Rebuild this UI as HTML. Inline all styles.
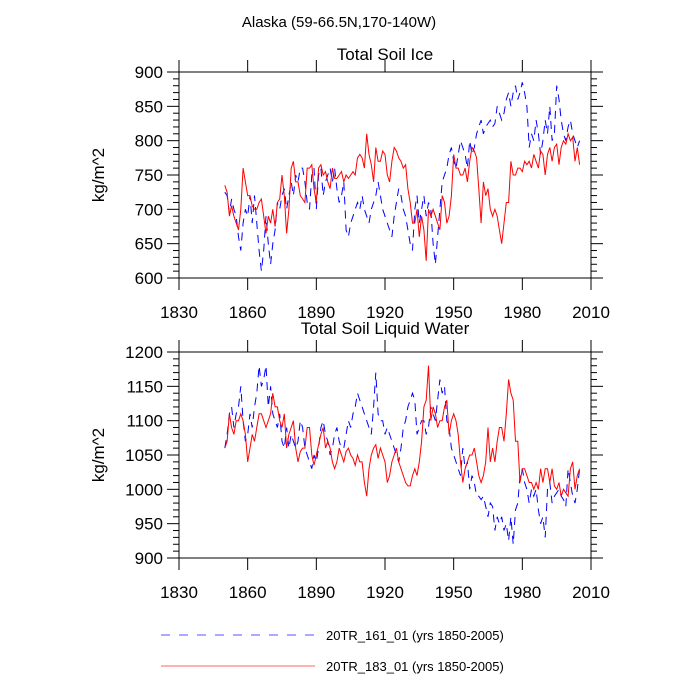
<!DOCTYPE html>
<html><head><meta charset="utf-8"><style>
body{margin:0;background:#fff}
svg{display:block;font-family:"Liberation Sans",sans-serif}
</style></head><body>
<svg id="chart" width="700" height="700">
<text x="339" y="27" font-size="15" text-anchor="middle">Alaska (59-66.5N,170-140W)</text>
<text x="385" y="60" font-size="17" text-anchor="middle">Total Soil Ice</text>
<text x="385" y="334" font-size="17" text-anchor="middle">Total Soil Liquid Water</text>
<g id="p1"></g>
<g id="p2"></g>
<g>
<line x1="161" y1="635" x2="315" y2="635" stroke="#55f" stroke-width="1" stroke-dasharray="9,9"/>
<text x="326" y="640" font-size="13">20TR_161_01 (yrs 1850-2005)</text>
<line x1="161" y1="666" x2="315" y2="666" stroke="#f66" stroke-width="1"/>
<text x="326" y="671" font-size="13">20TR_183_01 (yrs 1850-2005)</text>
</g>
</svg>
<script>
const startYear = 1850;
const xTicks = [1830,1860,1890,1920,1950,1980,2010];
const iceTicks = [600,650,700,750,800,850,900];
const liqTicks = [900,950,1000,1050,1100,1150,1200];
const iceRed = [735,725,690,705,690,680,670,700,760,740,720,720,705,700,700,710,715,690,665,690,680,700,675,710,715,750,720,665,700,760,770,740,740,720,715,710,760,760,765,730,710,760,765,750,755,740,730,760,745,745,750,755,740,750,745,750,755,750,775,780,775,760,810,780,765,740,790,770,770,785,780,750,740,770,790,785,775,770,760,765,730,710,680,680,700,660,690,670,625,700,690,700,690,680,670,720,710,680,690,720,780,760,760,750,750,760,740,770,790,785,775,730,680,740,720,730,700,690,700,690,670,650,680,710,710,770,750,750,760,760,755,770,765,770,760,780,770,760,785,780,750,780,790,770,790,795,765,790,800,795,810,800,805,770,790,765];
const iceBlue = [725,720,695,715,700,690,660,640,680,700,690,720,680,720,680,640,610,640,690,650,620,650,670,710,700,720,730,700,720,740,720,750,740,760,760,740,710,700,750,760,700,750,760,720,740,750,760,740,760,730,710,720,740,670,660,680,690,700,710,700,720,700,690,680,700,710,720,740,720,700,690,680,670,660,690,710,730,720,700,690,670,650,640,700,720,680,700,720,690,710,700,650,620,660,700,740,750,760,780,790,770,760,780,800,790,780,760,800,780,790,810,820,830,810,820,825,830,820,825,850,840,830,840,860,870,850,870,880,860,870,885,870,850,790,810,800,830,810,780,800,830,810,850,800,810,880,860,830,810,800,820,830,810,800,790,800];
const liqRed = [1060,1070,1110,1090,1080,1100,1100,1110,1100,1080,1040,1060,1080,1070,1090,1110,1110,1100,1090,1100,1110,1140,1120,1120,1100,1090,1110,1060,1080,1090,1100,1060,1040,1055,1060,1060,1090,1090,1050,1035,1050,1065,1080,1090,1060,1070,1060,1040,1030,1040,1060,1050,1040,1055,1060,1050,1045,1035,1050,1040,1040,1010,990,1030,1050,1060,1065,1045,1060,1050,1040,1010,1020,1040,1050,1060,1040,1030,1020,1010,1005,1005,1020,1030,1020,1040,1070,1120,1130,1180,1100,1120,1110,1090,1100,1100,1120,1130,1080,1100,1110,1100,1080,1040,1010,1030,1040,1050,1050,1060,1040,1020,1010,1020,1040,1090,1040,1060,1040,1070,1090,1090,1070,1110,1160,1140,1130,1070,1070,1010,1030,1030,1020,1010,1010,1000,1010,1000,1030,1010,1030,1030,1010,1030,1005,1000,1010,990,1000,995,990,1030,1040,1000,1020,1030];
const liqBlue = [1060,1080,1110,1120,1090,1110,1120,1150,1100,1070,1080,1110,1090,1120,1140,1180,1150,1160,1180,1120,1150,1110,1100,1090,1110,1070,1060,1090,1060,1080,1070,1060,1070,1100,1090,1060,1050,1040,1030,1050,1040,1060,1090,1100,1080,1070,1050,1060,1080,1090,1070,1060,1060,1080,1100,1090,1110,1120,1140,1130,1120,1110,1100,1090,1080,1120,1170,1110,1100,1100,1080,1090,1080,1070,1060,1050,1040,1060,1090,1100,1120,1130,1140,1130,1080,1090,1100,1100,1080,1090,1120,1110,1100,1130,1160,1140,1150,1100,1090,1060,1050,1040,1030,1020,1060,1030,1040,1000,1020,1010,990,990,985,990,975,960,980,975,940,960,950,960,940,950,925,960,920,970,980,1020,1030,1010,1000,980,1000,990,1000,970,950,960,930,1000,1010,980,990,995,1000,990,985,975,1030,1010,990,980,1000,1030];

const NS='http://www.w3.org/2000/svg';
const L=179,R=591,xMin=1830,xMax=2010;
const xS=v=>L+(v-xMin)/(xMax-xMin)*(R-L);
function mk(tag,attrs,parent){const e=document.createElementNS(NS,tag);for(const k in attrs)e.setAttribute(k,attrs[k]);parent.appendChild(e);return e;}
function panel(g,top,bot,ticks,red,blue,pre){
  const yMin=ticks[0],yMax=ticks[ticks.length-1];
  const yS=v=>bot-(v-yMin)/(yMax-yMin)*(bot-top);
  const box=mk('rect',{x:L,y:top,width:R-L,height:bot-top,fill:'none',stroke:'#000','stroke-width':1},g);
  
  
  // y ticks
  for(let v=yMin;v<=yMax;v+=10){
    const major=(v-yMin)%50===0, len=major?12:6, y=yS(v);
    mk('line',{x1:L-len,y1:y,x2:L,y2:y,stroke:'#000'},g);
    mk('line',{x1:R,y1:y,x2:R+len,y2:y,stroke:'#000'},g);
  }
  ticks.forEach(v=>{
    const t=mk('text',{x:L-16,y:yS(v)+6,'font-size':17,'text-anchor':'end'},g);
    t.textContent=v;
    
    
  });
  xTicks.forEach(v=>{
    const x=xS(v);
    mk('line',{x1:x,y1:top-12,x2:x,y2:top,stroke:'#000'},g);
    mk('line',{x1:x,y1:bot,x2:x,y2:bot+12,stroke:'#000'},g);
    const t=mk('text',{x:x,y:bot+40,'font-size':17,'text-anchor':'middle'},g);
    t.textContent=v;
    
    
  });
  const yl=mk('text',{x:0,y:0,'font-size':17,'text-anchor':'middle',transform:`translate(104,${(top+bot)/2}) rotate(-90)`},g);
  yl.textContent='kg/m^2';
  
  
  const pts=a=>a.map((v,i)=>xS(startYear+i).toFixed(1)+','+yS(v).toFixed(1)).join(' ');
  const b=mk('polyline',{points:pts(blue),fill:'none',stroke:'#00f','stroke-width':1,'stroke-dasharray':'8,6'},g);
  
  
  const r=mk('polyline',{points:pts(red),fill:'none',stroke:'#f00','stroke-width':1},g);
  
  
}
panel(document.getElementById('p1'),72,278,iceTicks,iceRed,iceBlue,'ice');
panel(document.getElementById('p2'),352,558,liqTicks,liqRed,liqBlue,'liquid');
</script>
</body></html>
